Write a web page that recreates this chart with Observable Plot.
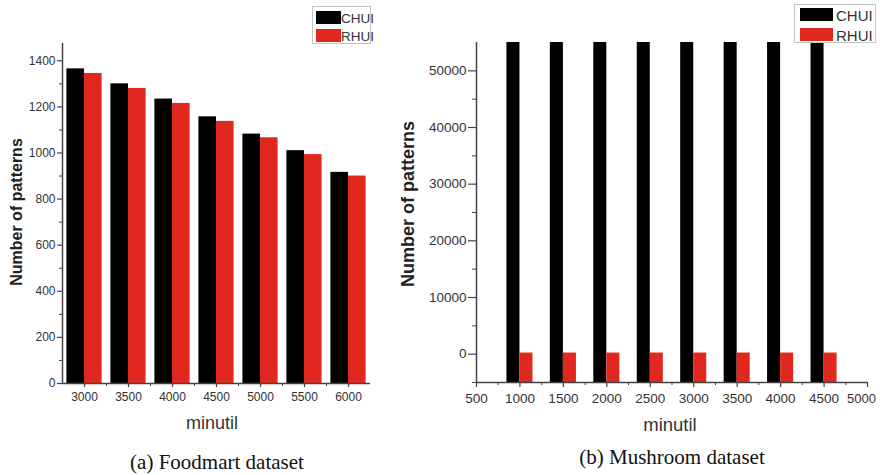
<!DOCTYPE html>
<html><head><meta charset="utf-8">
<script src="https://cdn.jsdelivr.net/npm/d3@7"></script>
<script src="https://cdn.jsdelivr.net/npm/@observablehq/plot@0.6"></script>
<style>
body{margin:0;background:#fff;}
#wrap{position:relative;width:880px;height:475px;overflow:hidden;font-family:"Liberation Sans",Arial,sans-serif;background:#fff;}
.panel{position:absolute;top:0;}
.ytitle{position:absolute;transform:translate(-50%,-50%) rotate(-90deg);white-space:nowrap;color:#222;font-weight:bold;}
.xtitle{position:absolute;transform:translate(-50%,-50%);color:#333;white-space:nowrap;}
.caption{position:absolute;transform:translate(-50%,-50%);font-family:"Liberation Serif","Times New Roman",serif;color:#111;white-space:nowrap;font-size:21px;}
.legend{position:absolute;border:1px solid #c4c4c4;background:#fff;box-sizing:border-box;}
.sw{position:absolute;}
.lt{position:absolute;color:#333;white-space:nowrap;transform:translateY(-50%);}
</style></head>
<body>
<div id="wrap">
  <div class="panel" id="left" style="left:0;"></div>
  <div class="panel" id="right" style="left:380px;"></div>
</div>
<script>
// ---- Data ----
const series = ["CHUI", "RHUI"];
const seriesColors = ["#000000", "#e1281f"];

const foodmartMinutil = [3000, 3500, 4000, 4500, 5000, 5500, 6000];
const foodmartCHUI = [1365, 1300, 1234, 1157, 1082, 1010, 916];
const foodmartRHUI = [1345, 1280, 1215, 1137, 1066, 993, 900];

const mushroomMinutil = [1000, 1500, 2000, 2500, 3000, 3500, 4000, 4500];
const mushroomCHUI = [55000, 55000, 55000, 55000, 55000, 55000, 55000, 55000];
const mushroomRHUI = [200, 200, 200, 200, 200, 200, 200, 200];

const leftYTicks = [0, 200, 400, 600, 800, 1000, 1200, 1400];
const leftYMinor = [100, 300, 500, 700, 900, 1100, 1300];
const leftXTicks = [3000, 3500, 4000, 4500, 5000, 5500, 6000];
const leftXMinor = [3250, 3750, 4250, 4750, 5250, 5750];

const rightYTicks = [0, 10000, 20000, 30000, 40000, 50000];
const rightYMinor = [-5000, 5000, 15000, 25000, 35000, 45000];
const rightXTicks = [500, 1000, 1500, 2000, 2500, 3000, 3500, 4000, 4500, 5000];
const rightXMinor = [750, 1250, 1750, 2250, 2750, 3250, 3750, 4250, 4750];

const foodRows = foodmartMinutil.map((m, i) => ({m, chui: foodmartCHUI[i], rhui: foodmartRHUI[i]}));
const mushRows = mushroomMinutil.map((m, i) => ({m, chui: mushroomCHUI[i], rhui: mushroomRHUI[i]}));

const axisColor = "#444";
const font = "'Liberation Sans', Arial, sans-serif";
const fmt = d => String(d);

// ---- Left chart: Foodmart ----
const leftXMin = 2750, leftXMax = 6250, leftBarW = 200;
const left = Plot.plot({
  width: 380, height: 430,
  marginLeft: 62, marginRight: 10, marginTop: 43, marginBottom: 47,
  x: {domain: [leftXMin, leftXMax]},
  y: {domain: [0, 1475]},
  style: {fontFamily: font, fontSize: "12px", color: "#333", background: "transparent", overflow: "visible"},
  marks: [
    Plot.rectY(foodRows, {x1: d => d.m - leftBarW, x2: d => d.m, y1: 0, y2: "chui", fill: seriesColors[0]}),
    Plot.rectY(foodRows, {x1: d => d.m, x2: d => d.m + leftBarW, y1: 0, y2: "rhui", fill: seriesColors[1]}),
    Plot.axisY({ticks: leftYTicks, tickSize: 5, tickPadding: 2, tickFormat: fmt, label: null, stroke: axisColor, fill: "#333", strokeWidth: 1.2}),
    Plot.axisY({ticks: leftYMinor, tickSize: 3, tickFormat: () => "", label: null, stroke: axisColor, strokeWidth: 1}),
    Plot.axisX({ticks: leftXTicks, tickSize: 4, tickPadding: 5, tickFormat: fmt, label: null, stroke: axisColor, fill: "#333", strokeWidth: 1.2}),
    Plot.axisX({ticks: leftXMinor, tickSize: 3, tickFormat: () => "", label: null, stroke: axisColor, strokeWidth: 1}),
    Plot.ruleX([leftXMin], {stroke: axisColor, strokeWidth: 1.5}),
    Plot.ruleY([0], {stroke: axisColor, strokeWidth: 1.5})
  ]
});
document.getElementById("left").appendChild(left);

// ---- Right chart: Mushroom ----
const rightXMin = 500, rightXMax = 5000, rightBarW = 150, rightBase = -5000;
const lastX = rightXTicks[rightXTicks.length - 1];
const right = Plot.plot({
  width: 500, height: 430,
  marginLeft: 96, marginRight: 13, marginTop: 42, marginBottom: 48,
  x: {domain: [rightXMin, rightXMax]},
  y: {domain: [rightBase, 55000]},
  style: {fontFamily: font, fontSize: "13.5px", color: "#333", background: "transparent", overflow: "visible"},
  marks: [
    Plot.rectY(mushRows, {x1: d => d.m - rightBarW, x2: d => d.m, y1: rightBase, y2: "chui", fill: seriesColors[0]}),
    Plot.rectY(mushRows, {x1: d => d.m, x2: d => d.m + rightBarW, y1: rightBase, y2: "rhui", fill: seriesColors[1]}),
    Plot.axisY({ticks: rightYTicks, tickSize: 8, tickPadding: 2, tickFormat: fmt, label: null, stroke: axisColor, fill: "#333", strokeWidth: 1.2}),
    Plot.axisY({ticks: rightYMinor, tickSize: 4, tickFormat: () => "", label: null, stroke: axisColor, strokeWidth: 1}),
    Plot.axisX({ticks: rightXTicks, tickSize: 5, tickPadding: 6, tickFormat: d => d === lastX ? "" : String(d), label: null, stroke: axisColor, fill: "#333", strokeWidth: 1.2}),
    Plot.text([lastX], {x: d => d, frameAnchor: "bottom", lineAnchor: "top", dy: 11, dx: -6, text: fmt, fill: "#333", fontSize: 13}),
    Plot.axisX({ticks: rightXMinor, tickSize: 3, tickFormat: () => "", label: null, stroke: axisColor, strokeWidth: 1}),
    Plot.ruleX([rightXMin], {stroke: axisColor, strokeWidth: 1.5}),
    Plot.ruleY([rightBase], {stroke: axisColor, strokeWidth: 1.5})
  ]
});
document.getElementById("right").appendChild(right);

// ---- Text & legends ----
const wrap = document.getElementById("wrap");
function addDiv(cls, text, css) {
  const d = document.createElement("div");
  d.className = cls;
  d.textContent = text;
  Object.assign(d.style, css);
  wrap.appendChild(d);
  return d;
}
addDiv("ytitle", "Number of patterns", {left: "17px", top: "212px", fontSize: "16px"});
addDiv("ytitle", "Number of patterns", {left: "408px", top: "204px", fontSize: "18px"});
addDiv("xtitle", "minutil", {left: "212px", top: "423px", fontSize: "18px"});
addDiv("xtitle", "minutil", {left: "670px", top: "425px", fontSize: "18.5px"});
addDiv("caption", "(a) Foodmart dataset", {left: "217px", top: "462px"});
addDiv("caption", "(b) Mushroom dataset", {left: "672px", top: "457px"});

function legend(box, sw, textLeft, fontSize) {
  const L = document.createElement("div");
  L.className = "legend";
  Object.assign(L.style, {left: box[0] + "px", top: box[1] + "px", width: box[2] + "px", height: box[3] + "px"});
  series.forEach((s, i) => {
    const r = document.createElement("div");
    r.className = "sw";
    Object.assign(r.style, {left: sw[0] + "px", top: sw[1 + i] + "px", width: sw[3] + "px", height: sw[4] + "px", background: seriesColors[i]});
    L.appendChild(r);
    const t = document.createElement("div");
    t.className = "lt";
    t.textContent = s;
    Object.assign(t.style, {left: textLeft + "px", top: (sw[1 + i] + sw[4] / 2) + "px", fontSize: fontSize});
    L.appendChild(t);
  });
  wrap.appendChild(L);
}
legend([312, 6, 59, 38], [3, 4, 22, 25, 13], 28, "13.5px");
legend([794, 4, 82, 39], [5, 3, 23, 33, 13], 41, "15px");
</script>
</body></html>
